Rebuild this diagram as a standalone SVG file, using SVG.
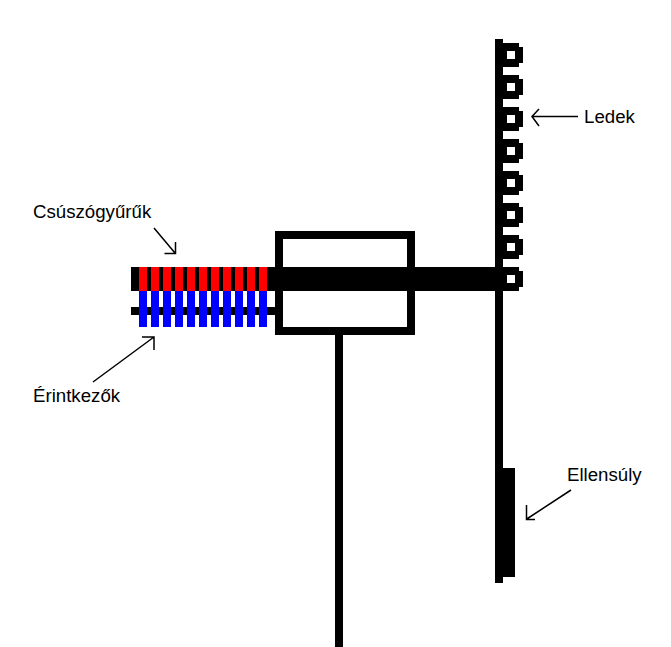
<svg xmlns="http://www.w3.org/2000/svg" width="671" height="647" viewBox="0 0 671 647">
<style>
.k{fill:#000}
.r{fill:#f00}
.b{fill:#00f}
.h{fill:#fff}
.a{fill:none;stroke:#000;stroke-width:1.5}
text{font-family:"Liberation Sans",Arial,sans-serif;font-size:18.67px;fill:#000}
</style>
<defs>
<path id="led" class="k" d="M503 43H519V47H523V63H519V67H503Z M507 51V59H515V51Z" fill-rule="evenodd"/>
</defs>
<rect width="671" height="647" fill="#fff"/>
<g id="housing">
<rect x="279" y="235" width="132" height="96" fill="#fff" stroke="#000" stroke-width="8"/>
<rect class="k" x="335" y="335" width="8" height="312"/>
</g>
<g id="shaft">
<rect class="k" x="131" y="267" width="372" height="24"/>
</g>
<g id="contact-rod">
<rect class="k" x="131" y="307" width="144" height="8"/>
</g>
<g id="slip-rings">
<rect class="r" x="139" y="267" width="8" height="24"/>
<rect class="r" x="151" y="267" width="8" height="24"/>
<rect class="r" x="163" y="267" width="8" height="24"/>
<rect class="r" x="175" y="267" width="8" height="24"/>
<rect class="r" x="187" y="267" width="8" height="24"/>
<rect class="r" x="199" y="267" width="8" height="24"/>
<rect class="r" x="211" y="267" width="8" height="24"/>
<rect class="r" x="223" y="267" width="8" height="24"/>
<rect class="r" x="235" y="267" width="8" height="24"/>
<rect class="r" x="247" y="267" width="8" height="24"/>
<rect class="r" x="259" y="267" width="8" height="24"/>
</g>
<g id="contacts">
<rect class="b" x="139" y="291" width="8" height="36"/>
<rect class="b" x="151" y="291" width="8" height="36"/>
<rect class="b" x="163" y="291" width="8" height="36"/>
<rect class="b" x="175" y="291" width="8" height="36"/>
<rect class="b" x="187" y="291" width="8" height="36"/>
<rect class="b" x="199" y="291" width="8" height="36"/>
<rect class="b" x="211" y="291" width="8" height="36"/>
<rect class="b" x="223" y="291" width="8" height="36"/>
<rect class="b" x="235" y="291" width="8" height="36"/>
<rect class="b" x="247" y="291" width="8" height="36"/>
<rect class="b" x="259" y="291" width="8" height="36"/>
</g>
<g id="arm">
<rect class="k" x="495" y="39" width="8" height="544"/>
</g>
<g id="counterweight">
<rect class="k" x="503" y="468" width="12" height="109"/>
</g>
<g id="leds">
<use href="#led"/>
<use href="#led" y="32"/>
<use href="#led" y="64"/>
<use href="#led" y="96"/>
<use href="#led" y="128"/>
<use href="#led" y="160"/>
<use href="#led" y="192"/>
<use href="#led" y="224"/>
</g>
<g id="connectors">
<path class="a" d="M154 228L175 253M164.500 253.500H175.500V242"/>
<path class="a" d="M93 382L154 337M142 337H154V350"/>
<path class="a" d="M578 116.500H532M539 109L532 116.500L539 126"/>
<path class="a" d="M571 490L526 519.500M526.500 505V519.500H535"/>
</g>
<g id="labels">
<text x="33" y="218">Csúszógyűrűk</text>
<text x="33" y="402">Érintkezők</text>
<text x="584" y="123">Ledek</text>
<text x="567" y="481">Ellensúly</text>
</g>
</svg>
